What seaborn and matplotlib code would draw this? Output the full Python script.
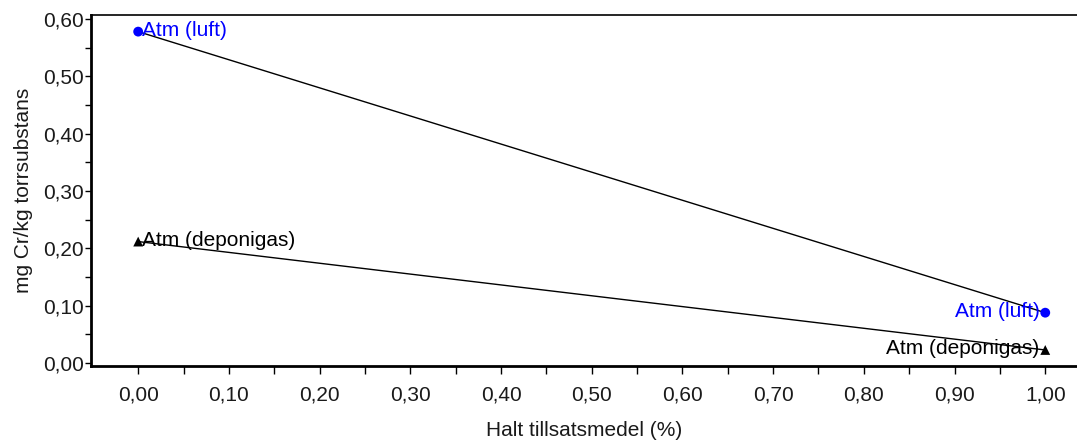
import matplotlib
matplotlib.use("Agg")
import matplotlib.pyplot as plt
import matplotlib.ticker as mticker
import seaborn as sns
import pandas as pd

# Additive content (%) and chromium release per atmosphere
halt = [0.0, 1.0]
luft = [0.578, 0.088]
deponigas = [0.212, 0.023]
series_names = ["Atm (luft)", "Atm (deponigas)"]

df = pd.DataFrame({
    "halt": halt * 2,
    "cr": luft + deponigas,
    "atm": [series_names[0]] * len(halt) + [series_names[1]] * len(halt),
})

sns.set_theme(style="white")
plt.rcParams["font.family"] = ["Liberation Sans", "DejaVu Sans"]

FS = 15
TXT = "#1a1a1a"

fig = plt.figure(figsize=(10.77, 4.41), dpi=100)
ax = fig.add_axes([0.0845, 0.170, 0.9155, 0.796])

sns.lineplot(data=df, x="halt", y="cr", units="atm", estimator=None,
             color="black", linewidth=1.0, ax=ax, legend=False)

colors = {series_names[0]: "#0000ff", series_names[1]: "#000000"}
markers = {series_names[0]: "o", series_names[1]: "^"}
sns.scatterplot(data=df, x="halt", y="cr", hue="atm", style="atm",
                palette=colors, markers=markers, s=50, edgecolor="none",
                ax=ax, legend=False, zorder=3)

# Point labels: right of the start value, right-aligned at the end value
for name in series_names:
    sub = df[df["atm"] == name]
    c = colors[name]
    x0, y0 = sub["halt"].iloc[0], sub["cr"].iloc[0]
    x1, y1 = sub["halt"].iloc[-1], sub["cr"].iloc[-1]
    ax.annotate(name, (x0, y0), xytext=(3, 1), textcoords="offset points",
                ha="left", va="center", color=c, fontsize=FS)
    ax.annotate(name, (x1, y1), xytext=(-4, 1), textcoords="offset points",
                ha="right", va="center", color=c, fontsize=FS)

ax.set_xlim(-0.052, 1.035)
ax.set_ylim(-0.005, 0.607)

comma = mticker.FuncFormatter(lambda v, p: f"{v:.2f}".replace(".", ","))
ax.xaxis.set_major_locator(mticker.FixedLocator([i / 10 for i in range(11)]))
ax.xaxis.set_minor_locator(mticker.FixedLocator([0.05 + i / 10 for i in range(10)]))
ax.yaxis.set_major_locator(mticker.FixedLocator([i / 10 for i in range(7)]))
ax.yaxis.set_minor_locator(mticker.FixedLocator([0.05 + i / 10 for i in range(6)]))
ax.xaxis.set_major_formatter(comma)
ax.yaxis.set_major_formatter(comma)

ax.tick_params(axis="both", which="both", direction="out", color="black",
               width=1.0, labelsize=FS, labelcolor=TXT)
ax.tick_params(axis="x", which="both", length=6, pad=8)
ax.tick_params(axis="y", which="both", length=4, pad=1)
ax.tick_params(bottom=True, left=True, which="both")

for side in ["left", "bottom"]:
    ax.spines[side].set_color("black")
    ax.spines[side].set_linewidth(2.0)
ax.spines["top"].set_color("black")
ax.spines["top"].set_linewidth(1.2)
ax.spines["right"].set_visible(False)

ax.set_xlabel("Halt tillsatsmedel (%)", fontsize=FS, color=TXT, labelpad=12)
ax.set_ylabel("mg Cr/kg torrsubstans", fontsize=FS, color=TXT, labelpad=7)

fig.savefig("out.png", dpi=100)
